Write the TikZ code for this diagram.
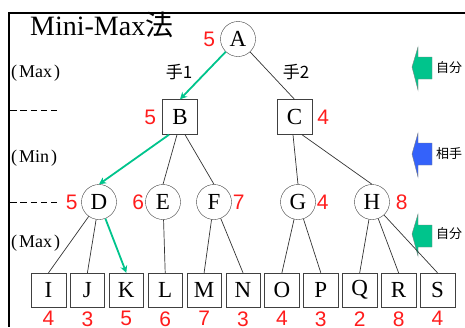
\documentclass[tikz,border=0pt]{standalone}
\usepackage{fontspec}
\setmainfont{Liberation Serif}
\setsansfont{Liberation Sans}
\newfontfamily\cjk{Noto Sans CJK JP}
\usetikzlibrary{positioning,arrows.meta}
\definecolor{movegreen}{RGB}{0,196,140}
\definecolor{turnblue}{RGB}{52,98,250}
\definecolor{valred}{RGB}{255,28,28}

\begin{document}
\begin{tikzpicture}[
      x=1pt, y=1pt,
      nodes={font=\fontsize{23}{23}\selectfont},
      maxnode/.style={circle, draw=black!75, minimum size=35pt, inner sep=0pt},
      minnode/.style={rectangle, draw=black!75, minimum size=35pt, inner sep=0pt},
      leaf/.style={rectangle, draw=black!75, minimum width=34.5pt, minimum height=34pt, inner sep=0pt},
      val/.style={text=valred, font=\sffamily\fontsize{21}{21}\selectfont, inner sep=1pt, label distance=0pt},
      leafval/.style={val, inner sep=0pt, label distance=4pt},
      side/.style={font=\fontsize{18}{18}\selectfont, anchor=west, inner sep=0pt},
      turn/.style={draw=black!50, line width=0.4pt},
      link/.style={draw=black!80, line width=0.7pt},
      best/.style={draw=movegreen, line width=1.8pt, -{Stealth[length=7pt,width=7pt]}},
      >=stealth
      ]

  \useasboundingbox (0,0) rectangle (465,-327);

  % frame and title
  \draw[line width=1.6pt] (8,-13) -- (465,-13);
  \draw[line width=1.6pt] (9,-13) -- (9,-327);
  \node[anchor=base west, inner sep=0pt, font=\fontsize{28}{28}\selectfont] (title)
    at (30,-35) {Mini-Max{\cjk 法}};

  % levels on the left
  \node[side] (lv1) at (11,-73) {(\kern2pt Max\kern2pt)};
  \node[side] (lv2) at (11,-158) {(\kern2pt Min\kern2pt)};
  \node[side] (lv3) at (11,-243) {(\kern2pt Max\kern2pt)};
  \draw[dash pattern=on 6.5pt off 3.8pt, line width=0.8pt] (10,-110) -- (57,-110);
  \draw[dash pattern=on 6.5pt off 3.8pt, line width=0.8pt] (10,-202) -- (57,-202);

  % tree
  \node[maxnode, label={[val,xshift=-4pt]left:5}] (A) at (238,-39) {A};
  \node[minnode, label={[val,xshift=-5pt]left:5}] (B) at (180,-117) {B};
  \node[minnode, label={[val,xshift=4pt]right:4}] (C) at (294.5,-117) {C};
  \node[maxnode, label={[val,xshift=-2.5pt]left:5}] (D) at (99,-202) {D};
  \node[maxnode, label={[val]left:6}] (E) at (163,-202) {E};
  \node[maxnode, label={[val]right:7}] (F) at (214,-202) {F};
  \node[maxnode, label={[val]right:4}] (G) at (298,-202) {G};
  \node[maxnode, label={[val,xshift=5pt]right:8}] (H) at (372,-202) {H};

  \node[leaf, label={[leafval]below:4}] (I) at (48.5,-290) {I};
  \node[leaf, right = 4pt of I, label={[leafval]below:3}] (J) {J};
  \node[leaf, right = 4pt of J, label={[leafval]below:5}] (K) {K};
  \node[leaf, right = 4pt of K, label={[leafval]below:6}] (L) {L};
  \node[leaf, right = 4pt of L, label={[leafval]below:7}] (M) {M};
  \node[leaf, right = 4pt of M, label={[leafval]below:3}] (N) {N};
  \node[leaf, right = 4pt of N, label={[leafval]below:4}] (O) {O};
  \node[leaf, right = 4pt of O, label={[leafval]below:3}] (P) {P};
  \node[leaf, right = 4pt of P, label={[leafval]below:2}] (Q) {Q};
  \node[leaf, right = 4pt of Q, label={[leafval]below:8}] (R) {R};
  \node[leaf, right = 4pt of R, label={[leafval]below:4}] (S) {S};

  % move labels
  \node[font=\cjk\fontsize{17}{17}\selectfont] (m1) at (179,-72) {手1};
  \node[font=\cjk\fontsize{17}{17}\selectfont] (m2) at (296,-72) {手2};

  % Connect the nodes
  \draw[best] (A) -- (B.north);
  \draw[link] (A) -- (C.north);
  \draw[best] ([xshift=-11pt]B.south) -- (D.north);
  \draw[link] ([xshift=-3pt]B.south) -- (E.north);
  \draw[link] ([xshift=5pt]B.south) -- (F.north);
  \draw[link] ([xshift=-1.5pt]C.south) -- (G.north);
  \draw[link] ([xshift=7.5pt]C.south) -- (H.north);
  \draw[link] (D) -- (I.north);
  \draw[link] (D) -- (J.north);
  \draw[best] (D) -- (K.north);
  \draw[link] (E) -- (L.north);
  \draw[link] (F) -- (M.north);
  \draw[link] (F) -- (N.north);
  \draw[link] (G) -- (O.north);
  \draw[link] (G) -- (P.north);
  \draw[link] (H) -- (Q.north);
  \draw[link] (H) -- (R.north);

  % whose turn
  \draw[turn, fill=movegreen] (432,-57) -- (418,-57) -- (418,-47) -- (412,-67)
    -- (418,-90) -- (418,-79) -- (432,-79) -- cycle;
  \draw[turn, fill=turnblue] (432,-143) -- (418,-143) -- (418,-133) -- (412,-154)
    -- (418,-177) -- (418,-165) -- (432,-165) -- cycle;
  \draw[turn, fill=movegreen] (432,-225) -- (418,-225) -- (418,-214) -- (412,-234)
    -- (418,-256) -- (418,-247) -- (432,-247) -- cycle;
  \node[anchor=west, inner sep=0pt, font=\cjk\fontsize{13}{13}\selectfont] (t1) at (436,-68) {自分};
  \node[anchor=west, inner sep=0pt, font=\cjk\fontsize{13}{13}\selectfont] (t2) at (436,-154) {相手};
  \node[anchor=west, inner sep=0pt, font=\cjk\fontsize{13}{13}\selectfont] (t3) at (436,-234) {自分};

  \draw[link] (H) -- (S.north);

\end{tikzpicture}
\end{document}
